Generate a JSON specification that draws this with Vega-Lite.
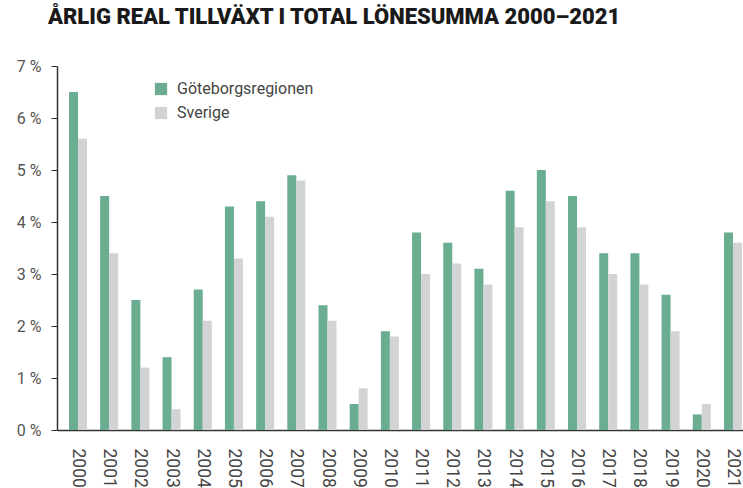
{
  "$schema": "https://vega.github.io/schema/vega-lite/v6.json",
  "width": 686,
  "height": 364,
  "autosize": {"type": "none"},
  "padding": {"left": 57, "top": 66, "right": 0, "bottom": 58},
  "background": "white",
  "title": {
    "text": "ÅRLIG REAL TILLVÄXT I TOTAL LÖNESUMMA 2000–2021",
    "anchor": "start",
    "frame": "group",
    "dx": -9,
    "offset": 29,
    "font": "Roboto",
    "fontWeight": 900,
    "fontSize": 22,
    "color": "#1a1a1a"
  },
  "data": {
    "values": [
      {"year": "2000", "region": "Göteborgsregionen", "value": 6.5},
      {"year": "2000", "region": "Sverige", "value": 5.6},
      {"year": "2001", "region": "Göteborgsregionen", "value": 4.5},
      {"year": "2001", "region": "Sverige", "value": 3.4},
      {"year": "2002", "region": "Göteborgsregionen", "value": 2.5},
      {"year": "2002", "region": "Sverige", "value": 1.2},
      {"year": "2003", "region": "Göteborgsregionen", "value": 1.4},
      {"year": "2003", "region": "Sverige", "value": 0.4},
      {"year": "2004", "region": "Göteborgsregionen", "value": 2.7},
      {"year": "2004", "region": "Sverige", "value": 2.1},
      {"year": "2005", "region": "Göteborgsregionen", "value": 4.3},
      {"year": "2005", "region": "Sverige", "value": 3.3},
      {"year": "2006", "region": "Göteborgsregionen", "value": 4.4},
      {"year": "2006", "region": "Sverige", "value": 4.1},
      {"year": "2007", "region": "Göteborgsregionen", "value": 4.9},
      {"year": "2007", "region": "Sverige", "value": 4.8},
      {"year": "2008", "region": "Göteborgsregionen", "value": 2.4},
      {"year": "2008", "region": "Sverige", "value": 2.1},
      {"year": "2009", "region": "Göteborgsregionen", "value": 0.5},
      {"year": "2009", "region": "Sverige", "value": 0.8},
      {"year": "2010", "region": "Göteborgsregionen", "value": 1.9},
      {"year": "2010", "region": "Sverige", "value": 1.8},
      {"year": "2011", "region": "Göteborgsregionen", "value": 3.8},
      {"year": "2011", "region": "Sverige", "value": 3.0},
      {"year": "2012", "region": "Göteborgsregionen", "value": 3.6},
      {"year": "2012", "region": "Sverige", "value": 3.2},
      {"year": "2013", "region": "Göteborgsregionen", "value": 3.1},
      {"year": "2013", "region": "Sverige", "value": 2.8},
      {"year": "2014", "region": "Göteborgsregionen", "value": 4.6},
      {"year": "2014", "region": "Sverige", "value": 3.9},
      {"year": "2015", "region": "Göteborgsregionen", "value": 5.0},
      {"year": "2015", "region": "Sverige", "value": 4.4},
      {"year": "2016", "region": "Göteborgsregionen", "value": 4.5},
      {"year": "2016", "region": "Sverige", "value": 3.9},
      {"year": "2017", "region": "Göteborgsregionen", "value": 3.4},
      {"year": "2017", "region": "Sverige", "value": 3.0},
      {"year": "2018", "region": "Göteborgsregionen", "value": 3.4},
      {"year": "2018", "region": "Sverige", "value": 2.8},
      {"year": "2019", "region": "Göteborgsregionen", "value": 2.6},
      {"year": "2019", "region": "Sverige", "value": 1.9},
      {"year": "2020", "region": "Göteborgsregionen", "value": 0.3},
      {"year": "2020", "region": "Sverige", "value": 0.5},
      {"year": "2021", "region": "Göteborgsregionen", "value": 3.8},
      {"year": "2021", "region": "Sverige", "value": 3.6}
    ]
  },
  "mark": {"type": "bar"},
  "encoding": {
    "x": {
      "field": "year",
      "type": "nominal",
      "scale": {"paddingInner": 0.423, "paddingOuter": 0.209, "align": 0.92},
      "axis": {
        "title": null,
        "labelAngle": 90,
        "labelAlign": "left",
        "labelBaseline": "middle",
        "labelPadding": 18,
        "ticks": false,
        "domainColor": "#333333",
        "domainWidth": 1.5,
        "labelFont": "Roboto",
        "labelFontSize": 17.5,
        "labelColor": "#444444"
      }
    },
    "xOffset": {"field": "region", "type": "nominal", "scale": {"paddingInner": 0, "paddingOuter": 0}},
    "y": {
      "field": "value",
      "type": "quantitative",
      "scale": {"domain": [0, 7], "nice": false},
      "axis": {
        "title": null,
        "values": [0, 1, 2, 3, 4, 5, 6, 7],
        "labelExpr": "datum.value + ' %'",
        "grid": false,
        "tickSize": 6,
        "tickColor": "#333333",
        "domainColor": "#333333",
        "domainWidth": 1.5,
        "labelPadding": 10,
        "labelFont": "Roboto",
        "labelFontSize": 16,
        "labelColor": "#555555"
      }
    },
    "color": {
      "field": "region",
      "type": "nominal",
      "scale": {"domain": ["Göteborgsregionen", "Sverige"], "range": ["#6aad90", "#d2d3d5"]},
      "legend": {
        "title": null,
        "orient": "none",
        "legendX": 96,
        "legendY": 15,
        "symbolType": "square",
        "symbolSize": 150,
        "symbolStrokeWidth": 0,
        "symbolOpacity": 1,
        "labelFont": "Roboto",
        "labelFontSize": 16,
        "labelColor": "#444444",
        "rowPadding": 8,
        "labelOffset": 8
      }
    }
  },
  "config": {"view": {"stroke": null}}
}
